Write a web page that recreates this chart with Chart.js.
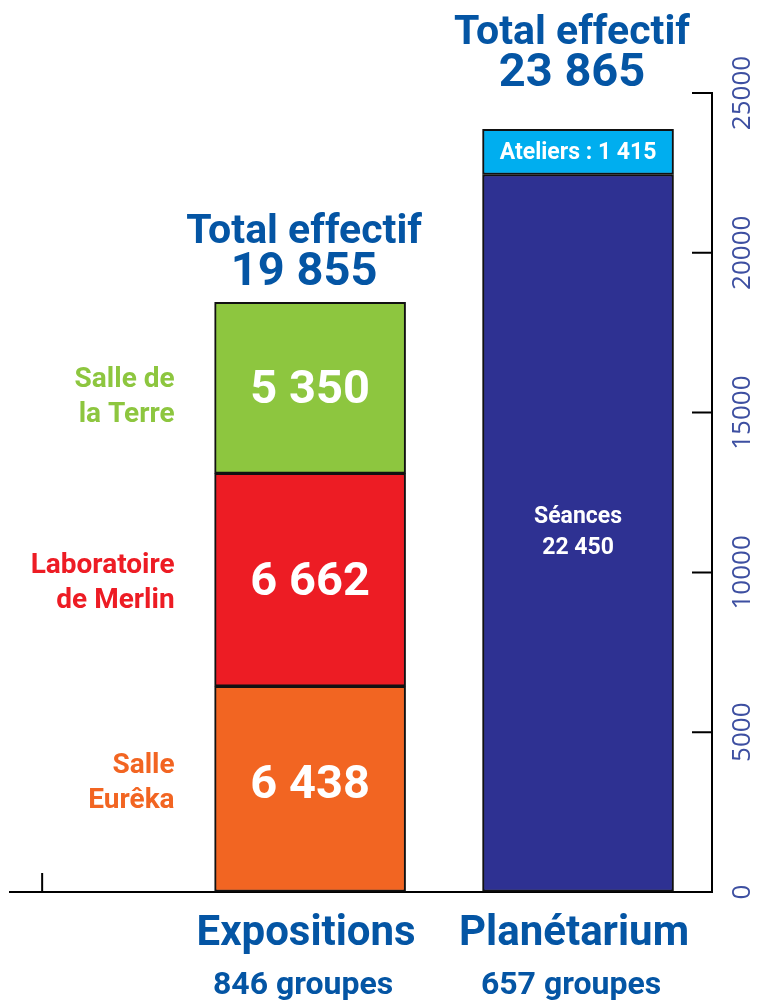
<!DOCTYPE html>
<html>
<head>
<meta charset="utf-8">
<script src="https://cdn.jsdelivr.net/npm/chart.js@4.4.0/dist/chart.umd.min.js"></script>
<style>
  html, body { margin: 0; padding: 0; background: #fff; }
  #wrap { width: 758px; height: 1006px; }
</style>
</head>
<body>
<div id="wrap"><canvas id="chart"></canvas></div>
<script>
// data
const categories = ['Expositions', 'Planétarium'];
const groupCounts = ['846 groupes', '657 groupes'];
const totals = [19855, 23865];
const salleEureka = [6438, null];
const laboratoireMerlin = [6662, null];
const salleTerre = [5350, null];
const seances = [null, 22450];
const ateliers = [null, 1415];
const yTicks = [0, 5000, 10000, 15000, 20000, 25000];

const BLUE = '#0455a4';

function fmt(n) {
    return String(n).replace(/\B(?=(\d{3})+(?!\d))/g, ' ');
}

// bars sit at x = 1, 2 on a linear axis
function points(arr) {
    const out = [];
    arr.forEach((v, i) => { if (v !== null) out.push({ x: i + 1, y: v }); });
    return out;
}

function drawLines(ctx, lines, x, y, font, color, align, lh) {
    ctx.save();
    ctx.font = font;
    ctx.fillStyle = color;
    ctx.textAlign = align;
    ctx.textBaseline = 'middle';
    const start = y - (lines.length - 1) * lh / 2;
    lines.forEach((l, i) => ctx.fillText(l, x, start + i * lh));
    ctx.restore();
}

const labelsPlugin = {
    id: 'labels',
    afterDatasetsDraw(chart) {
        const ctx = chart.ctx;
        const xs = chart.scales.x, ys = chart.scales.y;
        const area = chart.chartArea;

        // labels in and beside the bars
        chart.data.datasets.forEach((ds, di) => {
            const meta = chart.getDatasetMeta(di);
            meta.data.forEach((bar, j) => {
                const v = ds.data[j].y;
                const cy = (bar.y + bar.base) / 2;
                if (ds.inner === 'big') {
                    drawLines(ctx, [fmt(v)], bar.x, cy + 3 + (ds.sideDy < 0 ? -6 : 0), 'bold 47px Roboto', '#fff', 'center', 0);
                } else if (ds.inner === 'two') {
                    drawLines(ctx, [ds.label, fmt(v)], bar.x, cy, 'bold 23px Roboto', '#fff', 'center', 31);
                } else if (ds.inner === 'one') {
                    drawLines(ctx, [ds.label + ' : ' + fmt(v)], bar.x, cy + 1, 'bold 23px Roboto', '#fff', 'center', 0);
                }
                if (ds.side) {
                    drawLines(ctx, ds.side, bar.x - bar.width / 2 - 40, cy + ds.sideDy, 'bold 28px Roboto', ds.backgroundColor, 'right', 35);
                }
            });
        });

        // totals above each stack, category names under the axis
        const gap = [29, 55];
        categories.forEach((c, i) => {
            let top = 0;
            chart.data.datasets.forEach(ds => ds.data.forEach(p => { if (p.x === i + 1) top += p.y; }));
            const px = xs.getPixelForValue(i + 1);
            const ty = ys.getPixelForValue(top) - gap[i];
            drawLines(ctx, ['Total effectif'], px - 6, ty - 41, 'bold 41px Roboto', BLUE, 'center', 0);
            drawLines(ctx, [fmt(totals[i])], px - 6, ty, 'bold 47px Roboto', BLUE, 'center', 0);
            drawLines(ctx, [c], px - 4, area.bottom + 42, 'bold 42px Roboto', BLUE, 'center', 0);
            drawLines(ctx, [groupCounts[i]], px - 7, area.bottom + 94, 'bold 32px Roboto', BLUE, 'center', 0);
        });

        // inward tick marks
        ctx.save();
        ctx.strokeStyle = '#000';
        ctx.lineWidth = 2;
        ctx.beginPath();
        yTicks.forEach(t => {
            const py = ys.getPixelForValue(t);
            ctx.moveTo(area.right - 20, py);
            ctx.lineTo(area.right, py);
        });
        const x0 = xs.getPixelForValue(0);
        ctx.moveTo(x0, area.bottom);
        ctx.lineTo(x0, area.bottom - 19);
        ctx.stroke();
        ctx.restore();
    }
};

const barStyle = { borderColor: '#111', borderWidth: 2, borderSkipped: false, barThickness: 191 };

new Chart(document.getElementById('chart'), {
    type: 'bar',
    data: {
        datasets: [
            { label: 'Salle Eurêka', data: points(salleEureka), backgroundColor: '#f26522', side: ['Salle', 'Eurêka'], sideDy: -5, inner: 'big', ...barStyle },
            { label: 'Laboratoire de Merlin', data: points(laboratoireMerlin), backgroundColor: '#ed1c24', side: ['Laboratoire', 'de Merlin'], sideDy: 4, inner: 'big', ...barStyle },
            { label: 'Salle de la Terre', data: points(salleTerre), backgroundColor: '#8dc63f', side: ['Salle de', 'la Terre'], sideDy: 10, inner: 'big', ...barStyle },
            { label: 'Séances', data: points(seances), backgroundColor: '#2e3192', inner: 'two', ...barStyle },
            { label: 'Ateliers', data: points(ateliers), backgroundColor: '#00aeef', inner: 'one', ...barStyle }
        ]
    },
    options: {
        responsive: true,
        maintainAspectRatio: false,
        animation: false,
        layout: { padding: { top: 93, bottom: 114, left: 10, right: 0 } },
        plugins: { legend: { display: false }, tooltip: { enabled: false } },
        scales: {
            x: {
                type: 'linear',
                stacked: true,
                offset: false,
                min: -0.12,
                max: 2.5,
                ticks: { display: false },
                grid: { display: false, drawTicks: false, offset: false },
                border: { color: '#000', width: 2 },
                afterFit: s => { s.height = 0; }
            },
            y: {
                position: 'right',
                stacked: true,
                min: 0,
                max: 25000,
                afterBuildTicks: s => { s.ticks = yTicks.map(v => ({ value: v })); },
                ticks: {
                    minRotation: 90,
                    maxRotation: 90,
                    crossAlign: 'center',
                    padding: -7,
                    color: '#3d4fa1',
                    font: { family: 'Open Sans', size: 26 },
                    callback: v => String(v)
                },
                grid: { drawOnChartArea: false, drawTicks: false },
                border: { color: '#000', width: 2 },
                afterFit: s => { s.width = 46; }
            }
        }
    },
    plugins: [labelsPlugin]
});
</script>
</body>
</html>
